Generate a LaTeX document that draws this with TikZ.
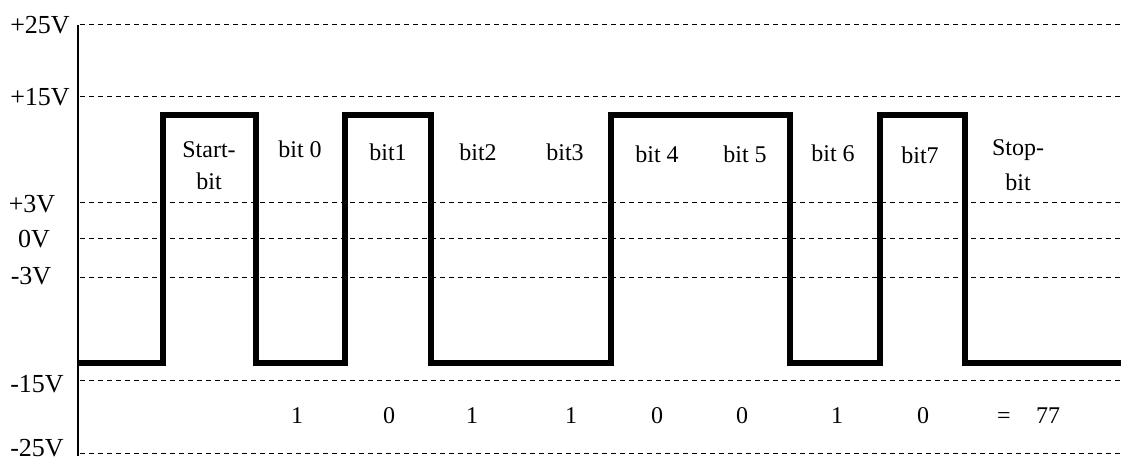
\documentclass[tikz,border=0pt]{standalone}
\usepackage{fontspec}
\setmainfont{Liberation Serif}
\begin{document}
\begin{tikzpicture}[x=1pt,y=-1pt,
  grid/.style={line width=1pt,dash pattern=on 5pt off 4pt},
  signal/.style={line width=6pt,line join=miter},
  axislbl/.style={anchor=base,inner sep=0pt,font=\fontsize{26}{26}\selectfont},
  bitlbl/.style={anchor=base,inner sep=0pt,font=\fontsize{24}{24}\selectfont},
  numlbl/.style={anchor=base,inner sep=0pt,font=\fontsize{24}{24}\selectfont}]
\useasboundingbox (0,0) rectangle (1121,462);
% grid lines
\foreach \yy in {25,97,203,239,277,380,453}
  \draw[grid] (80,\yy) -- (1121,\yy);
% axis
\draw[line width=2pt] (78,25) -- (78,456);
% axis labels
\node[axislbl] (v25) at (40,34) {+25V};
\node[axislbl] (v15) at (40,106) {+15V};
\node[axislbl] (v3) at (32,213) {+3V};
\node[axislbl] (v0) at (34,248) {0V};
\node[axislbl] (vm3) at (31,284) {-3V};
\node[axislbl] (vm15) at (37,392) {-15V};
\node[axislbl] (vm25) at (37,456) {-25V};
% signal
\draw[signal] (79,363) -- (163,363) -- (163,115) -- (256,115) -- (256,363)
  -- (345,363) -- (345,115) -- (431,115) -- (431,363) -- (611,363)
  -- (611,115) -- (790,115) -- (790,363) -- (880,363) -- (880,115)
  -- (965,115) -- (965,363) -- (1121,363);
% bit labels
\node[bitlbl] (start1) at (209,158) {Start-};
\node[bitlbl] (start2) at (209,190) {bit};
\node[bitlbl] (b0) at (300,158) {bit 0};
\node[bitlbl] (b1) at (388,161) {bit1};
\node[bitlbl] (b2) at (478,161) {bit2};
\node[bitlbl] (b3) at (565,161) {bit3};
\node[bitlbl] (b4) at (657,163) {bit 4};
\node[bitlbl] (b5) at (745,163) {bit 5};
\node[bitlbl] (b6) at (833,162) {bit 6};
\node[bitlbl] (b7) at (920,164) {bit7};
\node[bitlbl] (stop1) at (1018,156) {Stop-};
\node[bitlbl] (stop2) at (1018,191) {bit};
% values
\node[numlbl] (n0) at (297,423) {1};
\node[numlbl] (n1) at (389,423) {0};
\node[numlbl] (n2) at (472,423) {1};
\node[numlbl] (n3) at (571,423) {1};
\node[numlbl] (n4) at (657,423) {0};
\node[numlbl] (n5) at (742,423) {0};
\node[numlbl] (n6) at (837,423) {1};
\node[numlbl] (n7) at (923,423) {0};
\node[numlbl] (eq) at (1004,423) {=};
\node[numlbl] (res) at (1048,423) {77};
\end{tikzpicture}
\end{document}
